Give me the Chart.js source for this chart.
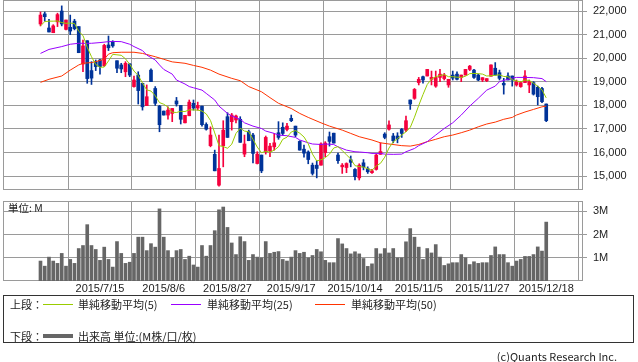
<!DOCTYPE html>
<html><head><meta charset="utf-8">
<script src="https://cdn.jsdelivr.net/npm/chart.js@4.4.0/dist/chart.umd.min.js"></script>
<style>
html,body{margin:0;padding:0;background:#fff;}
body{width:638px;height:362px;position:relative;overflow:hidden;font-family:"Noto Sans CJK JP","Liberation Sans",sans-serif;}
canvas{position:absolute;left:0;}
#pc{top:0;}
#vc{top:195px;}
.t{position:absolute;font-size:11px;color:#222;white-space:nowrap;line-height:12px;}
.box{position:absolute;left:3px;top:295px;width:631px;height:48px;border:1px solid #333;box-sizing:border-box;}
.ln{position:absolute;height:1px;}
</style></head><body>
<canvas id="pc" width="638" height="191"></canvas>
<canvas id="vc" width="638" height="105"></canvas>
<div class="t" style="left:8px;top:202px;font-size:10.5px">単位: M</div>
<div class="box"></div>
<div class="t" style="left:10px;top:298px">上段：</div>
<div class="ln" style="left:43px;top:304px;width:30px;background:#99cc00"></div>
<div class="t" style="left:78px;top:298px">単純移動平均(5)</div>
<div class="ln" style="left:171px;top:304px;width:30px;background:#9900ff"></div>
<div class="t" style="left:207px;top:298px">単純移動平均(25)</div>
<div class="ln" style="left:315px;top:304px;width:30px;background:#ff3300"></div>
<div class="t" style="left:351px;top:298px">単純移動平均(50)</div>
<div class="t" style="left:10px;top:330px">下段：</div>
<div class="ln" style="left:43px;top:334px;width:30px;height:4px;background:#666"></div>
<div class="t" style="left:78px;top:330px">出来高 単位:(M株/口/枚)</div>
<div class="t" style="right:21px;top:350px">(c)Quants Research Inc.</div>
<script>
// ---- data ----
const tickLabels = ['2015/7/15','2015/8/6','2015/8/27','2015/9/17','2015/10/14','2015/11/5','2015/11/27','2015/12/18'];
const tickIndex = [14,29,44,59,74,89,104,119];
const priceTicks = [15000,16000,17000,18000,19000,20000,21000,22000];
const volumeTicks = [1,2,3];

const opens = [21460,21890,21290,21090,21550,22010,21230,21320,21580,21350,
19760,20750,19480,19860,19930,19690,20570,20710,19900,19720,
19430,19760,18800,19290,18940,17990,19500,18720,17970,17760,
17590,17660,18190,18000,17260,17560,18090,17890,17970,17190,
16290,15920,14610,16290,17520,17310,17380,17410,15930,16880,
16740,15530,15890,16030,16070,16240,16840,17070,16980,17450,
17120,16470,16140,16020,15460,15460,15460,15990,16670,16820,
15890,15390,15360,15690,15280,14920,15560,15310,15140,15280,
15920,16780,16990,16700,16700,16980,16950,18230,18300,18970,
19220,19250,19110,18820,19190,19140,18870,19290,19330,19190,
19290,19530,19500,19290,19080,19050,19240,19580,19390,18940,
19250,19250,18870,18800,18970,18870,18970,18770,18720,18060];
const highs = [21970,21970,21660,21430,21920,22230,21630,21840,21660,21350,
20780,20750,19860,19930,19960,20600,20950,20750,19900,19790,
19860,19790,19250,19430,18940,18870,19550,18800,18000,17760,
17940,17870,18340,18000,17580,18230,18230,18140,17970,17260,
17090,16100,16740,17350,17690,17660,17590,17520,16740,16950,
16810,16030,15890,16700,16390,16810,17310,17260,17240,17590,
17120,16500,16310,16070,15550,15650,16410,16460,16870,16820,
15970,15530,15560,15850,15320,15520,15700,15390,15280,15930,
16410,16840,17350,16810,16840,17020,17550,18230,18720,19190,
19250,19530,19460,19460,19530,19360,19110,19460,19430,19290,
19530,19700,19530,19330,19180,19140,19720,19820,19500,19150,
19390,19250,19080,19010,19480,19080,19010,18820,18770,18060];
const lows = [21380,21580,21120,21090,21350,21380,21210,21010,21210,20240,
19430,18940,18890,19480,19330,19650,20330,20470,19390,19390,
19220,19220,18770,18060,17800,17990,19010,18000,16880,17590,
17410,17310,17970,17210,17260,17560,17800,17800,17120,16950,
16240,15220,14570,15390,16640,16950,17260,16430,15820,16500,
15560,15510,15140,15930,15820,16100,16560,16740,16920,17310,
16670,16100,15800,15520,15040,14920,15460,15820,16270,16400,
15530,15110,15140,15390,14830,14830,15260,15110,15110,15250,
15920,16580,16950,16410,16410,16640,16880,17830,18260,18870,
18940,19250,18870,18770,19010,19080,18770,19080,19080,19010,
19290,19480,19150,19050,19010,19010,19240,19290,19080,18480,
19080,18820,18820,18770,18970,18540,18440,18020,18120,17310];
const closes = [21840,21770,21120,21380,21860,21460,21630,21160,21260,20240,
20530,19140,19160,19650,19650,20550,20450,20530,19580,19550,
19790,19290,19080,18630,17940,18370,19010,18090,17180,17590,
17800,17870,18060,17410,17580,18140,17890,18000,17180,16990,
16740,15220,15320,16950,16640,17590,17550,16430,16360,16500,
15960,15930,15220,16640,16270,16410,16640,16810,17120,17350,
16740,16100,15970,15700,15110,15320,16360,16400,16470,16400,
15650,15460,15530,15580,14970,15460,15380,15180,15220,15890,
16040,16640,17170,16500,16580,16810,17350,18060,18680,19110,
19080,19530,19190,19190,19330,19290,19110,19160,19110,19290,
19530,19670,19190,19080,19180,19140,19720,19290,19150,18870,
19080,19080,19010,18970,19250,19010,18480,18370,18160,17350];
const ma5 = [21380,21560,21580,21580,21590,21520,21490,21500,21480,21150,
20970,20470,20070,19740,19620,19630,19890,20170,20150,20130,
19980,19750,19460,19270,18950,18660,18610,18410,18120,18050,
17930,17710,17700,17750,17740,17810,17810,17800,17760,17640,
17360,16830,16290,16250,16180,16350,16810,17030,16910,16880,
16560,16230,15990,16050,16010,16100,16240,16560,16650,16870,
16930,16820,16660,16370,15930,15640,15690,15780,15930,16190,
16250,16080,15900,15720,15440,15400,15380,15310,15240,15430,
15540,15800,16190,16450,16590,16740,16880,17060,17500,18000,
18460,18890,19120,19220,19270,19310,19220,19220,19200,19190,
19240,19350,19360,19350,19330,19250,19260,19280,19300,19230,
19220,19090,19040,19000,19080,19060,18940,18820,18660,18320];
const ma25Index = [0,2,5,7,9,12,14,16,17,19,21,22,24,25,27,28,29,31,32,34,35,36,38,39,41,42,44,45,47,48,50,52,53,55,56,58,60,61,63,64,66,67,69,70,72,74,75,77,78,80,81,83,85,86,88,89,91,93,95,97,99,101,103,105,107,108,110,111,112,114,116,118,119];
const ma25 = [20210,20380,20500,20600,20640,20640,20670,20710,20720,20710,20600,20500,20330,20140,19930,19720,19530,19330,19080,18910,18800,18750,18650,18510,18230,17970,17660,17550,17410,17260,17120,17020,16910,16810,16740,16710,16640,16530,16410,16360,16340,16360,16340,16240,16100,16030,16020,15990,15960,15960,15930,15920,15930,16030,16170,16290,16460,16740,17020,17260,17590,17970,18300,18650,18820,19010,19110,19160,19190,19190,19180,19140,19010];
const ma50Index = [0,2,5,7,9,10,12,13,15,16,17,19,22,24,27,29,31,34,36,38,40,42,45,47,49,52,54,56,59,61,63,66,68,71,73,75,78,80,82,85,87,89,91,93,95,97,99,101,103,105,107,109,111,112,114,116,118,119];
const ma50 = [18980,19110,19250,19500,19720,19790,19820,19860,19960,20180,20240,20260,20260,20210,20070,19960,19850,19790,19700,19620,19500,19330,19150,19050,18800,18580,18330,18090,17870,17660,17490,17260,17120,16950,16810,16670,16530,16410,16360,16290,16270,16340,16460,16560,16670,16740,16840,16950,17090,17210,17290,17410,17490,17590,17720,17830,17940,17970];
const volume = [0.86,0.64,1.03,0.86,0.76,1.19,0.64,0.93,0.76,1.40,
1.53,2.43,1.53,1.36,0.89,1.46,0.93,0.60,1.70,1.19,
0.76,0.81,1.19,1.89,1.89,1.31,1.61,1.46,3.11,1.89,
1.31,1.00,1.31,1.36,0.93,1.07,0.69,0.60,1.53,1.07,
1.53,2.17,3.07,3.19,2.31,1.64,1.14,1.91,1.70,0.89,
1.14,1.03,1.00,1.70,1.19,1.24,1.27,0.93,0.86,1.03,
1.31,1.19,1.24,1.00,1.10,1.36,1.26,0.89,0.79,0.79,
1.83,1.60,1.40,1.17,1.26,1.17,0.97,0.63,0.74,1.40,
1.17,1.40,1.21,1.40,1.00,1.00,1.69,2.26,1.89,1.46,
0.93,1.40,1.21,1.57,1.03,0.67,0.74,0.79,0.79,1.14,
1.00,0.71,0.83,0.76,0.79,0.79,1.10,1.47,1.14,1.14,
0.79,0.64,0.86,0.93,1.06,1.06,1.14,1.47,1.29,2.54];

// ---- style ----
const UP = '#f5003d', DOWN = '#003399', GRID = '#9a9a9a', TXT = '#222';
const XMIN = -8.82, XMAX = 127.65;
const axisFont = {family: "'Liberation Sans', Arial, sans-serif", size: 11};

const idx = closes.map((_, i) => i);
const candleColor = idx.map(i => closes[i] >= opens[i] ? UP : DOWN);

const frame = {
  id: 'frame',
  beforeDatasetsDraw(c) {
    const {ctx, chartArea: a} = c;
    ctx.save();
    ctx.strokeStyle = GRID; ctx.lineWidth = 1;
    ctx.strokeRect(Math.round(a.left) + 0.5, Math.round(a.top) + 0.5,
      Math.round(a.right - a.left) - 1, Math.round(a.bottom - a.top) - 1);
    ctx.restore();
  }
};

const xScale = (showLabels, h) => ({
  type: 'linear', min: XMIN, max: XMAX, offset: false,
  grid: {color: GRID, drawTicks: false, lineWidth: 1},
  border: {display: false},
  ticks: {display: showLabels, color: TXT, font: axisFont, padding: 1, maxRotation: 0, autoSkip: false,
    callback: (v, k) => tickLabels[k]},
  afterBuildTicks: s => { s.ticks = tickIndex.map(v => ({value: v})); },
  afterFit: s => { s.height = h; s.paddingLeft = 0; s.paddingRight = 0; }
});

const base = {
  responsive: false, animation: false, events: [],
  plugins: {legend: {display: false}, tooltip: {enabled: false}}
};

new Chart(document.getElementById('pc'), {
  type: 'bar',
  data: {datasets: [
    {type: 'line', data: idx.map(i => ({x: i, y: ma5[i]})), borderColor: '#99cc00', borderWidth: 1, pointRadius: 0, tension: 0, order: 0},
    {type: 'line', data: ma25Index.map((x, k) => ({x, y: ma25[k]})), borderColor: '#9900ff', borderWidth: 1, pointRadius: 0, tension: 0, order: 0},
    {type: 'line', data: ma50Index.map((x, k) => ({x, y: ma50[k]})), borderColor: '#ff3300', borderWidth: 1, pointRadius: 0, tension: 0, order: 0},
    {type: 'bar', data: idx.map(i => ({x: i, y: [opens[i], closes[i]]})), backgroundColor: candleColor, barThickness: 3, grouped: false, minBarLength: 1, order: 1},
    {type: 'bar', data: idx.map(i => ({x: i, y: [lows[i], highs[i]]})), backgroundColor: candleColor, barThickness: 1, grouped: false, order: 2}
  ]},
  options: Object.assign({}, base, {
    layout: {padding: {left: 3, top: 0, right: 0, bottom: 0}},
    scales: {
      x: xScale(false, 1),
      y: {position: 'right', min: 14405, max: 22480,
        grid: {color: GRID, tickLength: 4},
        border: {display: false},
        ticks: {color: TXT, font: axisFont, padding: 6, callback: v => v.toLocaleString('en-US')},
        afterBuildTicks: s => { s.ticks = priceTicks.map(v => ({value: v})); },
        afterFit: s => { s.width = 55; s.paddingTop = 0; s.paddingBottom = 0; }
      }
    }
  }),
  plugins: [frame]
});

new Chart(document.getElementById('vc'), {
  type: 'bar',
  data: {datasets: [
    {data: idx.map(i => ({x: i, y: volume[i]})), backgroundColor: '#666666', barThickness: 3}
  ]},
  options: Object.assign({}, base, {
    layout: {padding: {left: 3, top: 6, right: 0, bottom: 0}},
    scales: {
      x: xScale(true, 19),
      y: {position: 'right', min: 0, max: 3.45,
        grid: {color: GRID, tickLength: 4},
        border: {display: false},
        ticks: {color: TXT, font: axisFont, padding: 6, callback: v => v + 'M'},
        afterBuildTicks: s => { s.ticks = volumeTicks.map(v => ({value: v})); },
        afterFit: s => { s.width = 55; s.paddingTop = 0; s.paddingBottom = 0; }
      }
    }
  }),
  plugins: [frame]
});
</script>
</body></html>
